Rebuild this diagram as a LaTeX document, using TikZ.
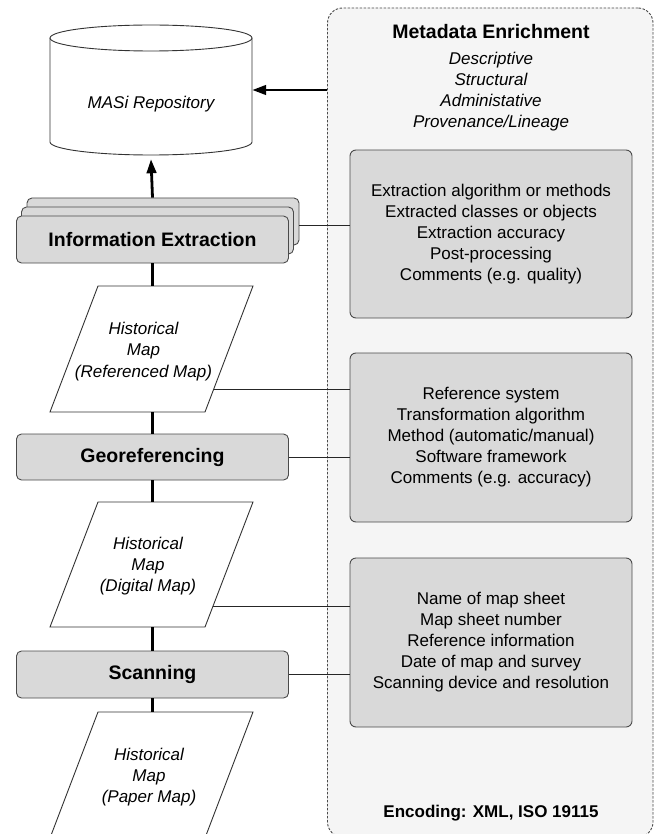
\documentclass[tikz,border=0pt]{standalone}
\usepackage{fontspec}
\setmainfont{Liberation Sans}
\usetikzlibrary{arrows.meta}
\definecolor{boxgray}{HTML}{D9D9D9}
\definecolor{panelgray}{HTML}{F5F5F5}
\definecolor{edgegray}{HTML}{4A4A4A}
\begin{document}
\begin{tikzpicture}[x=1pt,y=-1pt,
 stepbox/.style={draw=edgegray, line width=0.9pt, fill=boxgray, rounded corners=5pt,
   minimum width=272pt, minimum height=47pt, inner sep=0pt,
   font=\fontsize{19.5}{23}\selectfont\bfseries},
 detailbox/.style={draw=edgegray, line width=0.9pt, fill=boxgray, rounded corners=6pt,
   minimum width=282pt, inner sep=0pt, align=center,
   font=\fontsize{17}{21}\selectfont},
 maptext/.style={align=center, inner sep=0pt, font=\fontsize{17}{21.3}\selectfont\itshape},
 flow/.style={line width=2.8pt, draw=black},
 tip/.style={-{Triangle[length=14pt,width=9.5pt]}},
 link/.style={line width=0.9pt, draw=black!85},
 mapshape/.style={draw=black!80, line width=0.9pt, fill=white},
 headtext/.style={inner sep=0pt, font=\fontsize{19.5}{23}\selectfont\bfseries}
]
\clip (0,0) rectangle (657,834);
\fill[white] (0,0) rectangle (657,834);

% Metadata panel
\node[draw=edgegray, line width=0.9pt, dash pattern=on 2.5pt off 1.5pt, fill=panelgray,
  rounded corners=15pt, minimum width=325.5pt, minimum height=829pt, inner sep=0pt]
  (panel) at (490.25,422.5) {};
\node[headtext] (title) at (491,32) {Metadata Enrichment};
\node[maptext, font=\fontsize{17}{21}\selectfont\itshape] (kinds) at (491,91.5)
  {Descriptive\\Structural\\Administative\\Provenance/Lineage};
\node[inner sep=0pt, font=\fontsize{17}{21}\selectfont\bfseries] (enc) at (491,813)
  {Encoding: XML, ISO 19115};

\node[detailbox, minimum height=168pt] (d1) at (491,234)
  {Extraction algorithm or methods\\Extracted classes or objects\\Extraction accuracy\\Post-processing\\Comments (e.g. quality)};
\node[detailbox, minimum height=169pt] (d2) at (491,437.5)
  {Reference system\\Transformation algorithm\\Method (automatic/manual)\\Software framework\\Comments (e.g. accuracy)};
\node[detailbox, minimum height=169pt] (d3) at (491,642.5)
  {Name of map sheet\\Map sheet number\\Reference information\\Date of map and survey\\Scanning device and resolution};

% Repository cylinder
\draw[mapshape] (50,38) -- (50,142)
  arc[start angle=180, end angle=360, x radius=101pt, y radius=13pt] -- (252,38);
\draw[mapshape] (151,38) ellipse [x radius=101pt, y radius=13pt];
\node[minimum width=202pt, minimum height=130pt, inner sep=0pt] (repo) at (151,90) {};
\node[maptext] (repolabel) at (151,104.5) {MASi Repository};

% Step boxes
\node[stepbox] (ieb2) at (163,221.5) {};
\node[stepbox] (ieb1) at (157.5,230.5) {};
\node[stepbox] (ie) at (152.5,239.5) {Information Extraction};
\node[stepbox, minimum height=46pt] (geo) at (152.5,457) {Georeferencing};
\node[stepbox] (scan) at (152.5,674.5) {Scanning};

% Parallelograms
\draw[mapshape] (50,412) -- (205,412) -- (253,286) -- (98,286) -- cycle;
\draw[mapshape] (50,627) -- (205,627) -- (253,502) -- (98,502) -- cycle;
\draw[mapshape] (50,838) -- (205,838) -- (253,712) -- (98,712) -- cycle;
\coordinate (p1top) at (152.5,286);
\coordinate (p1bot) at (152.5,412);
\coordinate (p2top) at (152.5,502);
\coordinate (p2bot) at (152.5,627);
\coordinate (p3top) at (152.5,712);
\coordinate (p1link) at (213.8,389);
\coordinate (p2link) at (213.1,606);
\node[maptext] (p1text) at (143.5,351.5) {Historical\\Map\\(Referenced Map)};
\node[maptext] (p2text) at (148,566) {Historical\\Map\\(Digital Map)};
\node[maptext] (p3text) at (149,777) {Historical\\Map\\(Paper Map)};

% Flow connectors
\draw[flow, tip] (ie.north |- ieb2.north) -- ([yshift=-4pt]repo.south);
\draw[flow, tip] (panel.west |- repo.east) -- (repo.east);
\draw[flow] (ie.south) -- (p1top);
\draw[flow] (p1bot) -- (geo.north);
\draw[flow] (geo.south) -- (p2top);
\draw[flow] (p2bot) -- (scan.north);
\draw[flow] (scan.south) -- (p3top);

% Metadata links
\draw[link] ([yshift=-4pt]ieb2.east) -- ([yshift=-4pt]ieb2.east -| d1.west);
\draw[link] (p1link) -- (p1link -| d2.west);
\draw[link] (geo.east) -- (geo.east -| d2.west);
\draw[link] (p2link) -- (p2link -| d3.west);
\draw[link] (scan.east) -- (scan.east -| d3.west);
\end{tikzpicture}
\end{document}
